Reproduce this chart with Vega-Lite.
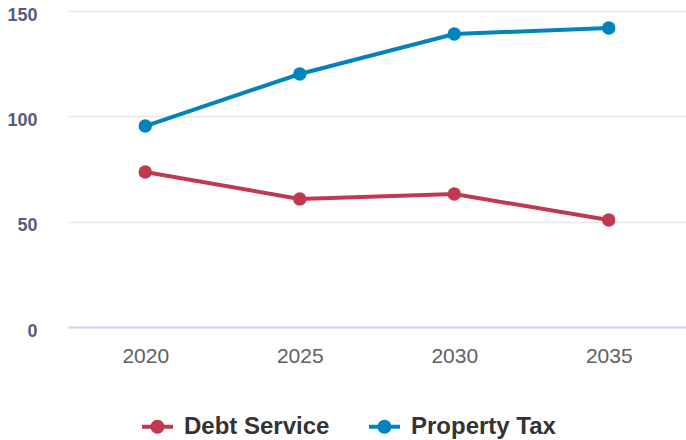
{
  "$schema": "https://vega.github.io/schema/vega-lite/v6.json",
  "width": 618,
  "height": 316,
  "autosize": {"type": "none"},
  "padding": {"left": 68, "top": 11, "right": 0, "bottom": 113},
  "config": {"view": {"stroke": null}, "font": "Liberation Sans"},
  "data": {
    "values": [
      {"year": "2020", "series": "Debt Service", "value": 73.6},
      {"year": "2025", "series": "Debt Service", "value": 60.8},
      {"year": "2030", "series": "Debt Service", "value": 63.1},
      {"year": "2035", "series": "Debt Service", "value": 50.8},
      {"year": "2020", "series": "Property Tax", "value": 95.4},
      {"year": "2025", "series": "Property Tax", "value": 120.1},
      {"year": "2030", "series": "Property Tax", "value": 139.1},
      {"year": "2035", "series": "Property Tax", "value": 141.9}
    ]
  },
  "encoding": {
    "x": {
      "field": "year", "type": "ordinal",
      "scale": {"type": "point", "padding": 0.5},
      "axis": {"title": null, "labelAngle": 0, "labelFontSize": 21, "labelColor": "#606060", "labelPadding": 18, "ticks": false, "domain": true, "domainColor": "#ccd6eb", "domainWidth": 2, "grid": false}
    },
    "y": {
      "field": "value", "type": "quantitative",
      "scale": {"domain": [0, 150]},
      "axis": {"title": null, "values": [0, 50, 100, 150], "labelFontSize": 18, "labelFontWeight": "bold", "labelColor": "#5a5a7a", "labelPadding": 31, "labelOffset": 4, "ticks": false, "domain": false, "grid": true, "gridColor": "#e6e6e6", "gridWidth": 1.5}
    },
    "color": {
      "field": "series", "type": "nominal",
      "scale": {"domain": ["Debt Service", "Property Tax"], "range": ["#c0394f", "#0083bf"]},
      "legend": {
        "title": null, "orient": "none", "legendX": 74, "legendY": 400, "direction": "horizontal",
        "labelFontSize": 24, "labelFontWeight": "bold", "labelColor": "#333333",
        "symbolType": "M -1 -0.13 L 1 -0.13 L 1 0.13 L -1 0.13 Z M -0.45 0 A 0.45 0.45 0 1 1 0.45 0 A 0.45 0.45 0 1 1 -0.45 0 Z",
        "symbolSize": 961, "symbolStrokeWidth": 0, "symbolOpacity": 1,
        "labelOffset": 11, "columnPadding": 39
      }
    }
  },
  "layer": [
    {"mark": {"type": "line", "strokeWidth": 4}},
    {"mark": {"type": "point", "filled": true, "size": 180, "opacity": 1}}
  ]
}
